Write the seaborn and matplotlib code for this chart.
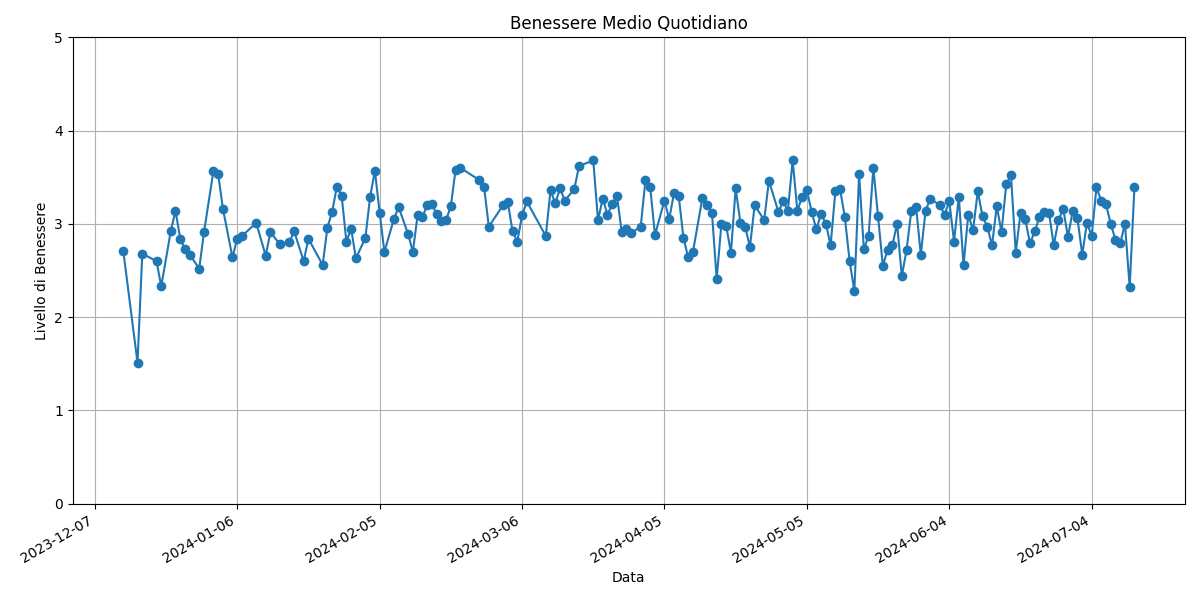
import pandas as pd
import matplotlib
matplotlib.use("Agg")
import matplotlib.pyplot as plt
import matplotlib.dates as mdates
import seaborn as sns

# days since 2023-12-07 and mean wellbeing
giorni = [6, 9, 10, 13, 14, 16, 17, 18, 19, 20, 22, 23, 25, 26, 27, 29, 30, 31, 34, 36,
          37, 39, 41, 42, 44, 45, 48, 49, 50, 51, 52, 53, 54, 55, 57, 58, 59, 60, 61, 63,
          64, 66, 67, 68, 69, 70, 71, 72, 73, 74, 75, 76, 77, 81, 82, 83, 86, 87, 88, 89,
          90, 91, 95, 96, 97, 98, 99, 101, 102, 105, 106, 107, 108, 109, 110, 111, 112, 113, 115, 116,
          117, 118, 120, 121, 122, 123, 124, 125, 126, 128, 129, 130, 131, 132, 133, 134, 135, 136, 137, 138,
          139, 141, 142, 144, 145, 146, 147, 148, 149, 150, 151, 152, 153, 154, 155, 156, 157, 158, 159, 160,
          161, 162, 163, 164, 165, 166, 167, 168, 169, 170, 171, 172, 173, 174, 175, 176, 178, 179, 180, 181,
          182, 183, 184, 185, 186, 187, 188, 189, 190, 191, 192, 193, 194, 195, 196, 197, 198, 199, 200, 201,
          202, 203, 204, 205, 206, 207, 208, 209, 210, 211, 212, 213, 214, 215, 216, 217, 218, 219]
benessere = [2.71, 1.51, 2.68, 2.60, 2.33, 2.92, 3.14, 2.84, 2.73, 2.67, 2.52, 2.91, 3.57, 3.53, 3.16, 2.64, 2.84, 2.87, 3.01, 2.66,
             2.91, 2.78, 2.81, 2.92, 2.60, 2.84, 2.56, 2.96, 3.13, 3.40, 3.30, 2.81, 2.95, 2.63, 2.85, 3.29, 3.57, 3.12, 2.70, 3.05,
             3.18, 2.89, 2.70, 3.09, 3.07, 3.20, 3.21, 3.11, 3.03, 3.04, 3.19, 3.58, 3.60, 3.47, 3.40, 2.97, 3.20, 3.23, 2.92, 2.81,
             3.09, 3.24, 2.87, 3.36, 3.22, 3.38, 3.25, 3.37, 3.62, 3.68, 3.04, 3.27, 3.10, 3.21, 3.30, 2.91, 2.95, 2.90, 2.97, 3.47,
             3.39, 2.88, 3.25, 3.05, 3.33, 3.30, 2.85, 2.64, 2.70, 3.28, 3.20, 3.12, 2.41, 3.00, 2.98, 2.69, 3.38, 3.01, 2.97, 2.75,
             3.20, 3.04, 3.46, 3.13, 3.24, 3.14, 3.68, 3.14, 3.29, 3.36, 3.13, 2.94, 3.11, 3.00, 2.77, 3.35, 3.37, 3.07, 2.60, 2.28,
             3.53, 2.73, 2.87, 3.60, 3.08, 2.55, 2.72, 2.77, 3.00, 2.44, 2.72, 3.14, 3.18, 2.67, 3.14, 3.27, 3.20, 3.10, 3.24, 2.81,
             3.29, 2.56, 3.10, 2.93, 3.35, 3.08, 2.97, 2.77, 3.19, 2.91, 3.43, 3.52, 2.69, 3.12, 3.05, 2.79, 2.92, 3.07, 3.13, 3.12,
             2.77, 3.04, 3.16, 2.86, 3.14, 3.06, 2.67, 3.01, 2.87, 3.39, 3.25, 3.21, 3.00, 2.83, 2.79, 3.00, 2.32, 3.40]
tick_date = ["2023-12-07", "2024-01-06", "2024-02-05", "2024-03-06",
             "2024-04-05", "2024-05-05", "2024-06-04", "2024-07-04"]

start = pd.Timestamp("2023-12-07")
df = pd.DataFrame({"Data": [start + pd.Timedelta(days=g) for g in giorni],
                   "Benessere": benessere})

fig, ax = plt.subplots(figsize=(12, 6), dpi=100)
sns.lineplot(data=df, x="Data", y="Benessere", marker="o", markersize=7,
             markeredgewidth=0, color="#1f77b4", linewidth=1.5, ax=ax)
ax.set_ylim(0, 5)
ax.set_xticks(pd.to_datetime(tick_date))
ax.xaxis.set_major_formatter(mdates.DateFormatter("%Y-%m-%d"))
ax.grid(True, color="#b0b0b0", linewidth=0.8)
ax.set_axisbelow(True)
ax.set_title("Benessere Medio Quotidiano")
ax.set_xlabel("Data")
ax.set_ylabel("Livello di Benessere")
fig.autofmt_xdate()
fig.tight_layout()
fig.savefig("out.png")
